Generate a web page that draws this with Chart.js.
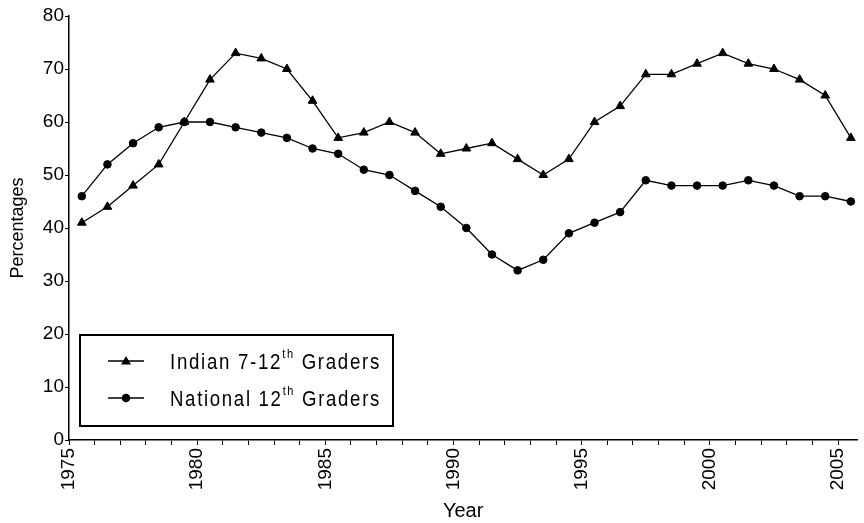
<!DOCTYPE html>
<html>
<head>
<meta charset="utf-8">
<title>Percentages by year</title>
<script src="https://cdn.jsdelivr.net/npm/chart.js@4.4.1/dist/chart.umd.min.js"></script>
<style>
  html, body { margin: 0; padding: 0; background: #fff; }
  #wrap { width: 864px; height: 523px; }
</style>
</head>
<body>
<div id="wrap"><canvas id="gradesChart" width="864" height="523"></canvas></div>
<script>
const years = [1975, 1976, 1977, 1978, 1979, 1980, 1981, 1982, 1983, 1984,
               1985, 1986, 1987, 1988, 1989, 1990, 1991, 1992, 1993, 1994,
               1995, 1996, 1997, 1998, 1999, 2000, 2001, 2002, 2003, 2004, 2005];
const indianGraders = [41, 44, 48, 52, 60, 68, 73, 72, 70, 64,
                       57, 58, 60, 58, 54, 55, 56, 53, 50, 53,
                       60, 63, 69, 69, 71, 73, 71, 70, 68, 65, 57];
const nationalGraders = [46, 52, 56, 59, 60, 60, 59, 58, 57, 55,
                         54, 51, 50, 47, 44, 40, 35, 32, 34, 39,
                         41, 43, 49, 48, 48, 48, 49, 48, 46, 46, 45];
const yearLabels = [1975, 1980, 1985, 1990, 1995, 2000, 2005];
const percentTicks = [0, 10, 20, 30, 40, 50, 60, 70, 80];
// legend text split so the ordinal suffix can be raised
const legendParts = [
  ['Indian 7-12', 'th', ' Graders'],
  ['National 12', 'th', ' Graders']
];

const FONT = '"Liberation Sans", Arial, sans-serif';
Chart.defaults.font.family = FONT;
Chart.defaults.color = '#000';

// values sit in the middle of each year
const toPoints = vals => vals.map((v, i) => ({ x: years[i] + 0.5, y: v }));

const boxLegend = {
  id: 'boxLegend',
  afterDraw(chart) {
    const ctx = chart.ctx;
    ctx.save();
    ctx.strokeStyle = '#000';
    ctx.fillStyle = '#000';
    ctx.lineWidth = 2;
    ctx.strokeRect(80, 335, 313, 91);
    chart.data.datasets.forEach((ds, i) => {
      const y = 361 + i * 37;
      ctx.lineWidth = 1.3;
      ctx.beginPath();
      ctx.moveTo(108, y);
      ctx.lineTo(144, y);
      ctx.stroke();
      ctx.beginPath();
      if (ds.pointStyle === 'triangle') {
        ctx.moveTo(126, y - 5);
        ctx.lineTo(131, y + 3.5);
        ctx.lineTo(121, y + 3.5);
        ctx.closePath();
      } else {
        ctx.arc(126, y, 4.3, 0, Math.PI * 2);
      }
      ctx.fill();

      // narrow, widely spaced face like the original
      const [main, sup, rest] = legendParts[i];
      ctx.letterSpacing = '2px';
      ctx.textBaseline = 'alphabetic';
      const big = '22px ' + FONT, small = '13px ' + FONT;
      ctx.font = big;
      const w1 = ctx.measureText(main).width, w3 = ctx.measureText(rest).width;
      ctx.font = small;
      const w2 = ctx.measureText(sup).width;
      const sx = 211 / (w1 + w2 + w3);
      ctx.save();
      ctx.translate(170, 0);
      ctx.scale(sx, 1);
      ctx.font = big;
      ctx.fillText(main, 0, y + 8);
      ctx.font = small;
      ctx.fillText(sup, w1, y - 3);
      ctx.font = big;
      ctx.fillText(rest, w1 + w2, y + 8);
      ctx.restore();
    });
    ctx.restore();
  }
};

new Chart(document.getElementById('gradesChart'), {
  type: 'line',
  data: {
    datasets: [{
      label: 'Indian 7-12th Graders',
      data: toPoints(indianGraders),
      borderColor: '#000',
      backgroundColor: '#000',
      borderWidth: 1.3,
      pointStyle: 'triangle',
      pointRadius: 5,
      pointBorderWidth: 1,
      tension: 0
    }, {
      label: 'National 12th Graders',
      data: toPoints(nationalGraders),
      borderColor: '#000',
      backgroundColor: '#000',
      borderWidth: 1.3,
      pointStyle: 'circle',
      pointRadius: 3.8,
      pointBorderWidth: 1,
      tension: 0
    }]
  },
  options: {
    responsive: false,
    animation: false,
    layout: { padding: { top: 16, right: 0, bottom: 0, left: 0 } },
    plugins: {
      legend: { display: false },
      tooltip: { enabled: false }
    },
    scales: {
      x: {
        type: 'linear',
        min: 1975,
        max: 2005.75,
        afterBuildTicks: s => { s.ticks = years.map(v => ({ value: v })); },
        afterFit: s => { s.height = 83; },
        grid: { drawOnChartArea: false, tickLength: 5, color: '#000', lineWidth: 1 },
        border: { color: '#000', width: 1.5 },
        ticks: {
          autoSkip: false,
          minRotation: 90,
          maxRotation: 90,
          padding: 3,
          font: { size: 19 },
          callback: v => yearLabels.includes(v) ? String(v) : ''
        },
        title: { display: true, text: 'Year', font: { size: 20 }, padding: 0 }
      },
      y: {
        min: 0,
        max: 80,
        afterBuildTicks: s => { s.ticks = percentTicks.map(v => ({ value: v })); },
        afterFit: s => { s.width = 69; },
        grid: { drawOnChartArea: false, tickLength: 4, color: '#000' },
        border: { color: '#000', width: 1.5 },
        ticks: { padding: 1, font: { size: 19 } },
        title: { display: true, text: 'Percentages', font: { size: 18 }, padding: { top: 7, bottom: 0 } }
      }
    }
  },
  plugins: [boxLegend]
});
</script>
</body>
</html>
